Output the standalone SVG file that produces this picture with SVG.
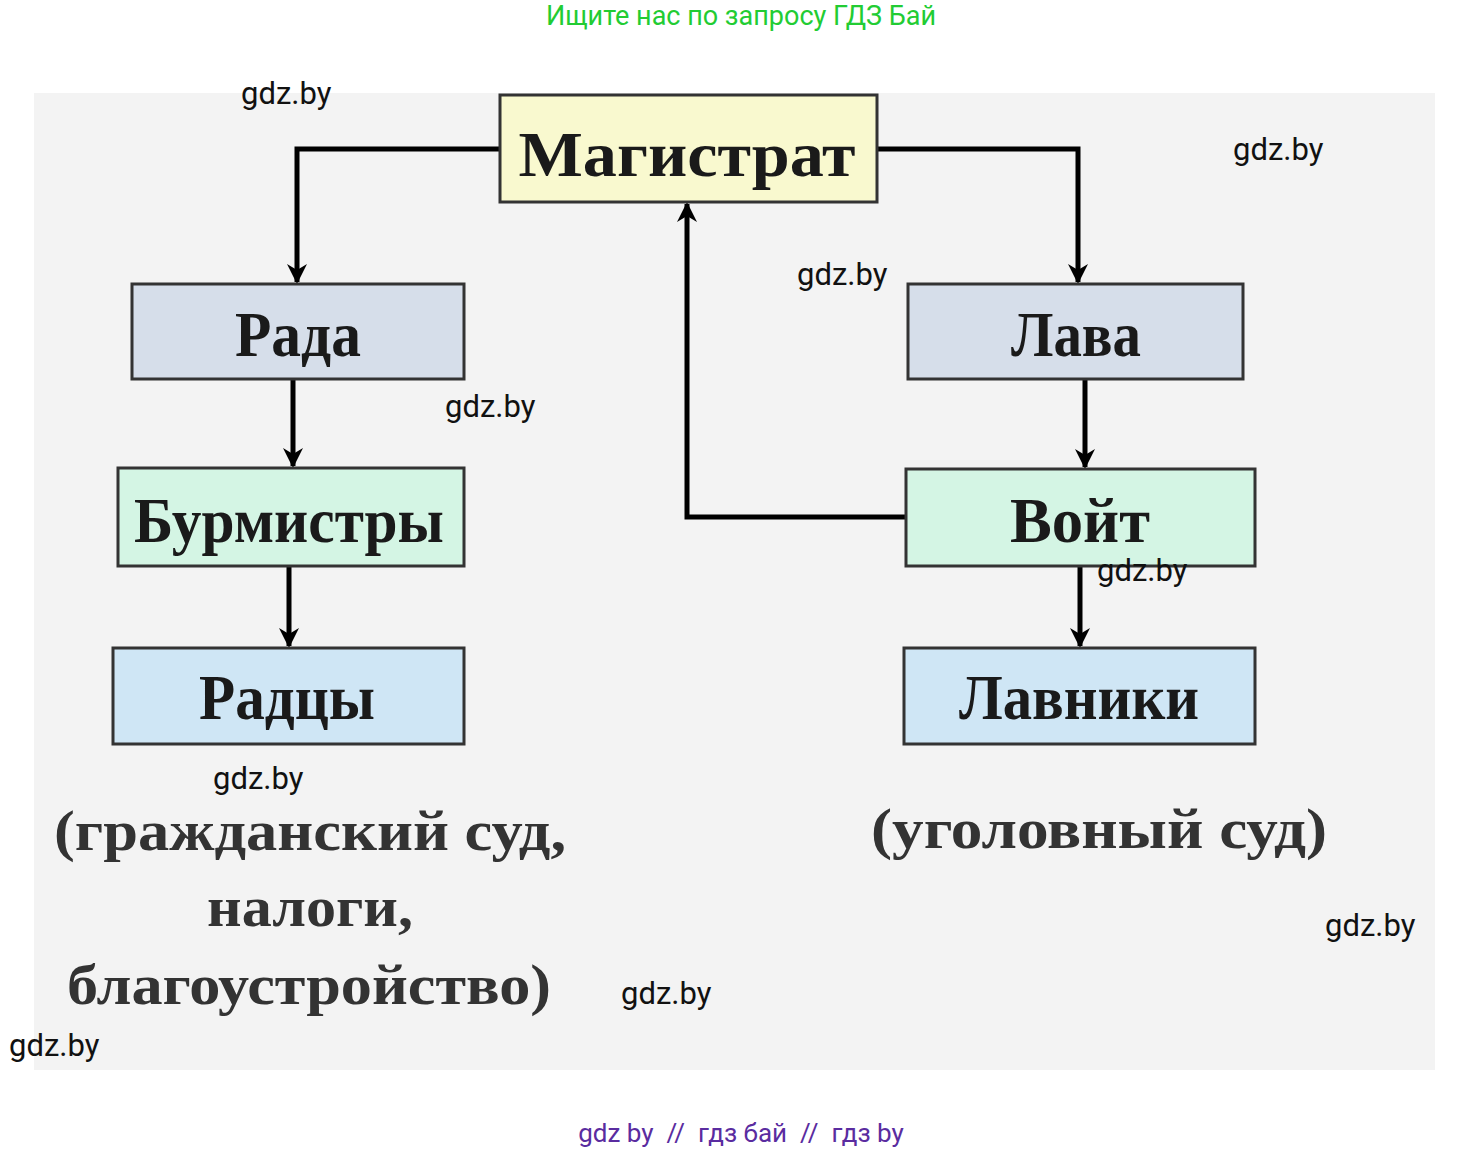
<svg xmlns="http://www.w3.org/2000/svg" width="1483" height="1152" viewBox="0 0 1483 1152">
<style>
.b{stroke:#333;stroke-width:3}
.t{font-family:"Liberation Serif",serif;font-size:64px;font-weight:bold;fill:#1a1a1a;text-anchor:middle}
.n{font-family:"Liberation Serif",serif;font-size:58px;font-weight:bold;fill:#333;text-anchor:middle}
.w{font-family:Roboto,"Liberation Sans",sans-serif;font-size:31px;fill:#111}
.c{fill:none;stroke:#000;stroke-width:5}
</style>
<defs><marker id="a" viewBox="0 0 10 10" refX="9" refY="5" markerWidth="4" markerHeight="4" orient="auto"><path d="M0,0L10,5L0,10L3,5z" fill="#000"/></marker></defs>
<rect width="1483" height="1152" fill="#fff"/>
<rect x="34" y="93" width="1401" height="977" fill="#f3f3f3"/>
<g id="connectors">
<path class="c" d="M500,149H297V282" marker-end="url(#a)"/>
<path class="c" d="M877,149H1078V282" marker-end="url(#a)"/>
<path class="c" d="M293,379V466" marker-end="url(#a)"/>
<path class="c" d="M289,566V646" marker-end="url(#a)"/>
<path class="c" d="M1085,379V467" marker-end="url(#a)"/>
<path class="c" d="M1080,566V646" marker-end="url(#a)"/>
<path class="c" d="M906,517H687V204" marker-end="url(#a)"/>
</g>
<g id="magistrat"><rect class="b" x="500" y="95" width="377" height="107" fill="#f9f9cf"/><text class="t" x="687" y="176" textLength="337" lengthAdjust="spacingAndGlyphs">Магистрат</text></g>
<g id="rada"><rect class="b" x="132" y="284" width="332" height="95" fill="#d6deea"/><text class="t" x="298" y="356" textLength="126" lengthAdjust="spacingAndGlyphs">Рада</text></g>
<g id="burmistry"><rect class="b" x="118" y="468" width="346" height="98" fill="#d4f5e4"/><text class="t" x="289" y="542" textLength="310" lengthAdjust="spacingAndGlyphs">Бурмистры</text></g>
<g id="radcy"><rect class="b" x="113" y="648" width="351" height="96" fill="#cfe6f5"/><text class="t" x="287" y="719" textLength="176" lengthAdjust="spacingAndGlyphs">Радцы</text></g>
<g id="lava"><rect class="b" x="908" y="284" width="335" height="95" fill="#d6deea"/><text class="t" x="1076" y="356" textLength="130" lengthAdjust="spacingAndGlyphs">Лава</text></g>
<g id="voit"><rect class="b" x="906" y="469" width="349" height="97" fill="#d4f5e4"/><text class="t" x="1080" y="542" textLength="140" lengthAdjust="spacingAndGlyphs">Войт</text></g>
<g id="lavniki"><rect class="b" x="904" y="648" width="351" height="96" fill="#cfe6f5"/><text class="t" x="1079" y="719" textLength="240" lengthAdjust="spacingAndGlyphs">Лавники</text></g>
<text class="n" x="310" y="850" textLength="512" lengthAdjust="spacingAndGlyphs">(гражданский суд,</text>
<text class="n" x="310" y="926" textLength="206" lengthAdjust="spacingAndGlyphs">налоги,</text>
<text class="n" x="309" y="1004" textLength="484" lengthAdjust="spacingAndGlyphs">благоустройство)</text>
<text class="n" x="1099" y="848" textLength="456" lengthAdjust="spacingAndGlyphs">(уголовный суд)</text>
<text x="741" y="25" font-family="Roboto,'Liberation Sans',sans-serif" font-size="27" fill="#22cc33" text-anchor="middle">Ищите нас по запросу ГДЗ Бай</text>
<text x="741" y="1142" font-family="Roboto,'Liberation Sans',sans-serif" font-size="26" fill="#5a2ca0" text-anchor="middle" xml:space="preserve">gdz by  //  гдз бай  //  гдз by</text>
<text class="w" x="241" y="104">gdz.by</text>
<text class="w" x="1233" y="160">gdz.by</text>
<text class="w" x="797" y="285">gdz.by</text>
<text class="w" x="445" y="417">gdz.by</text>
<text class="w" x="1097" y="581">gdz.by</text>
<text class="w" x="213" y="789">gdz.by</text>
<text class="w" x="1325" y="936">gdz.by</text>
<text class="w" x="621" y="1004">gdz.by</text>
<text class="w" x="9" y="1056">gdz.by</text>
</svg>
